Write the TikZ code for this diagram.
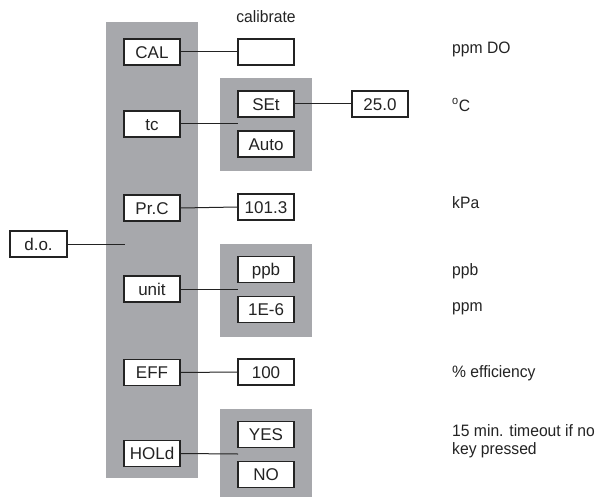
\documentclass[tikz,border=0pt]{standalone}
\usepackage{fontspec}
\setmainfont{Liberation Sans}
\newfontfamily\condfont[FakeStretch=0.95]{Liberation Sans}
\definecolor{panel}{RGB}{167,168,172}
\definecolor{ink}{RGB}{35,35,35}
\begin{document}
\begin{tikzpicture}[x=1pt,y=-1pt,
  keybox/.style={draw=ink,line width=1.1pt,fill=white,minimum width=56pt,minimum height=26pt,
    inner sep=0pt,text height=12.2pt,text depth=0pt,font=\fontsize{17}{17}\selectfont,text=ink},
  wire/.style={draw=ink,line width=1pt},
  lbl/.style={anchor=west,inner sep=0pt,font=\condfont\fontsize{16.5}{18}\selectfont,text=ink,align=left}]
\useasboundingbox (0,0) rectangle (601,497);
% panels
\fill[panel] (106,22) rectangle (198,478);
\fill[panel] (220,78) rectangle (312,171);
\fill[panel] (220,244) rectangle (312,337);
\fill[panel] (220,409) rectangle (312,497);
% left column keys
\node[keybox] (cal)  at (152,52)    {CAL};
\node[keybox] (tc)   at (152,124)   {tc};
\node[keybox] (prc)  at (152,208)   {Pr.C};
\node[keybox] (unit) at (152,289)   {unit};
\node[keybox] (eff)  at (152,372.5) {EFF};
\node[keybox] (hold) at (152,453.5) {HOLd};
\node[keybox,minimum width=57pt] (do) at (38.5,244) {d.o.};
% right column
\node[keybox] (calv) at (266,52)    {};
\node[keybox] (set)  at (266,104)   {SEt};
\node[keybox] (auto) at (266,144)   {Auto};
\node[keybox] (kpa)  at (266,207)   {101.3};
\node[keybox] (ppb)  at (266,269.5) {ppb};
\node[keybox] (ppm)  at (266,309.5) {1E-6};
\node[keybox] (effv) at (266,372)   {100};
\node[keybox] (yes)  at (266,434.5) {YES};
\node[keybox] (no)   at (266,474.5) {NO};
\node[keybox] (temp) at (380,104)   {25.0};
% connector ends
\coordinate (doend)   at (125,244);
\coordinate (tcend)   at (238,124);
\coordinate (unitend) at (238,289);
\coordinate (holdend) at (238,454);
% connectors
\draw[wire] (do.east) -- (doend);
\draw[wire] (cal.east) -- (calv.west);
\draw[wire] (tc.east) -- (tcend);
\draw[wire] (set.east) -- (temp.west);
\draw[wire] (prc.east) -- (kpa.west);
\draw[wire] (unit.east) -- (unitend);
\draw[wire] (eff.east) -- (effv.west);
\draw[wire] (hold.east) -- (holdend);
% labels
\node[lbl,anchor=center] (lcal) at (266,17) {calibrate};
\node[lbl] (l1) at (452,49)  {ppm DO};
\node[lbl] (l2) at (452,105) {\textsuperscript{o}C};
\node[lbl] (l3) at (452,203) {kPa};
\node[lbl] (l4) at (452,271) {ppb};
\node[lbl] (l5) at (452,309) {ppm};
\node[lbl] (l6) at (452,373) {\% efficiency};
\node[lbl] (l7) at (452,441) {15 min. timeout if no\\key pressed};
\end{tikzpicture}
\end{document}
